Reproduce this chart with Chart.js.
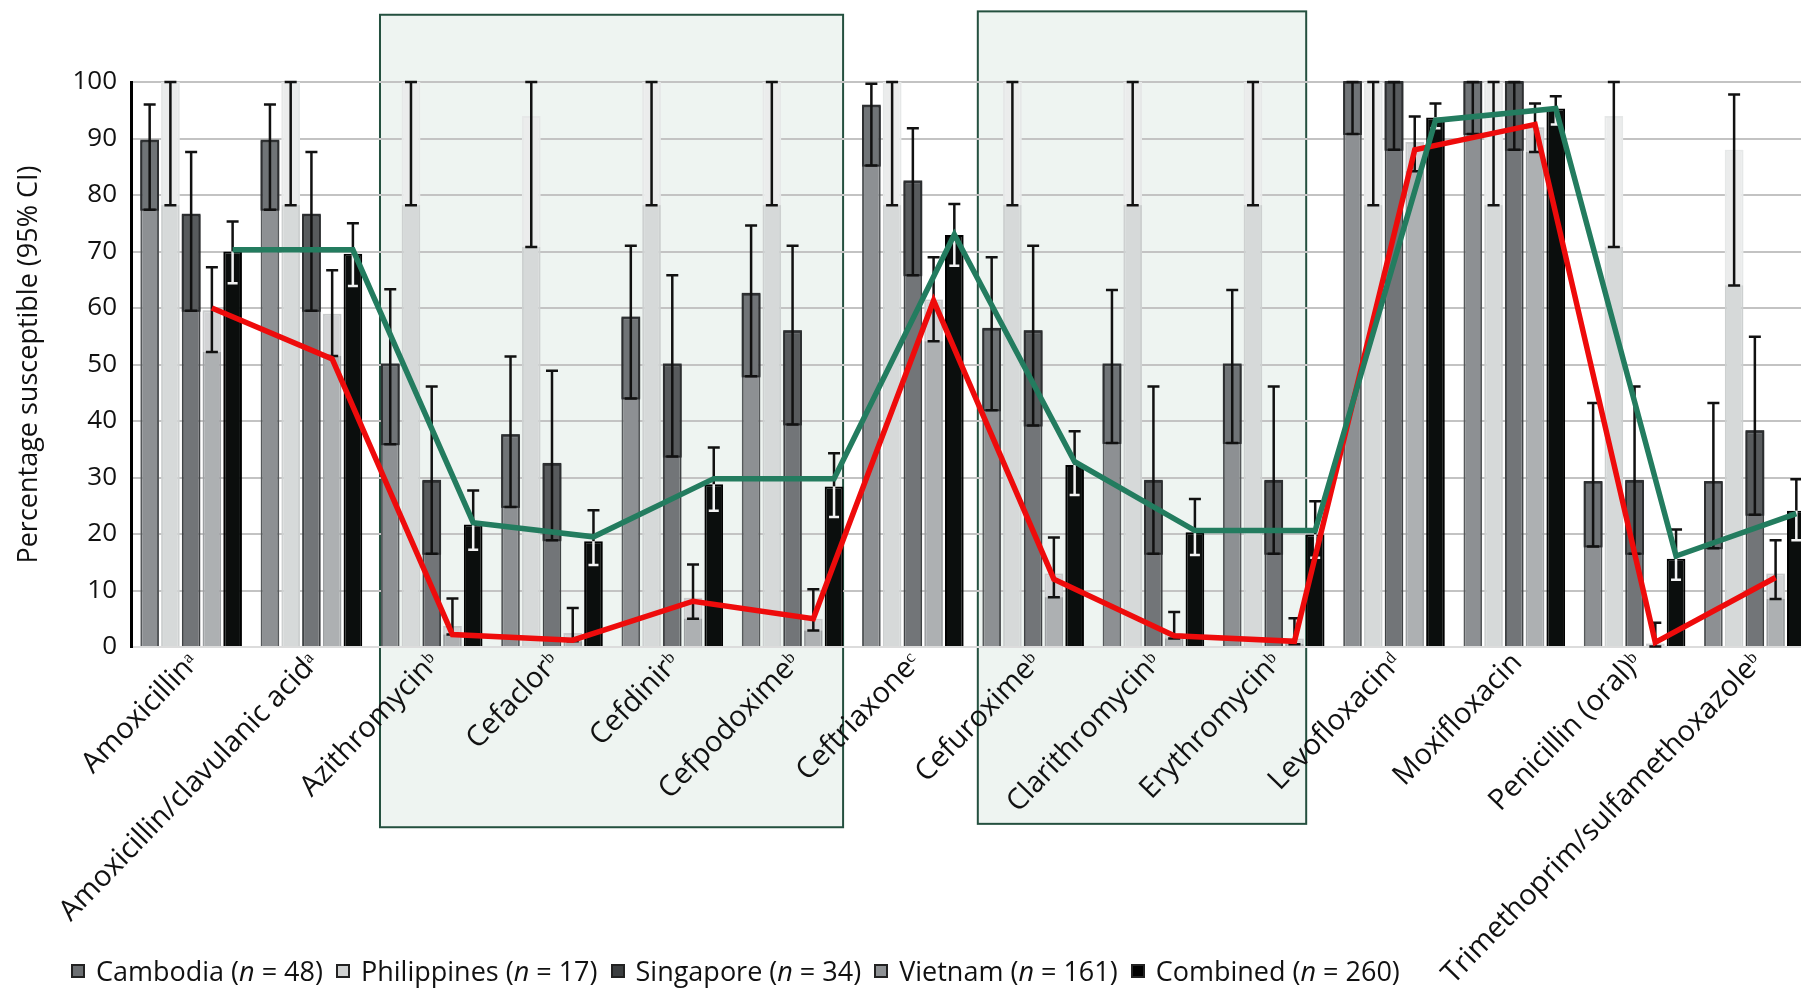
<!DOCTYPE html>
<html>
<head>
<meta charset="utf-8">
<script src="https://cdn.jsdelivr.net/npm/chart.js@4/dist/chart.umd.min.js"></script>
<style>
  html, body { margin: 0; padding: 0; background: #fff; overflow: hidden; }
  #wrap { position: relative; width: 1830px; height: 988px; }
  #legend {
    position: absolute; left: 71px; top: 952px;
    display: flex; align-items: center;
    font-family: "Open Sans", sans-serif; font-size: 27px; color: #111;
  }
  #legend .item { display: flex; align-items: center; margin-right: 13px; }
  #legend .sw { width: 14px; height: 14px; margin-right: 11px; box-sizing: border-box; border: 2px solid #222; }
</style>
</head>
<body>
<div id="wrap">
  <canvas id="chart" width="1830" height="988"></canvas>
  <div id="legend"></div>
</div>
<script>
const categories = [
  "Amoxicillinᵃ", "Amoxicillin/clavulanic acidᵃ", "Azithromycinᵇ", "Cefaclorᵇ",
  "Cefdinirᵇ", "Cefpodoximeᵇ", "Ceftriaxoneᶜ", "Cefuroximeᵇ", "Clarithromycinᵇ",
  "Erythromycinᵇ", "Levofloxacinᵈ", "Moxifloxacin", "Penicillin (oral)ᵇ",
  "Trimethoprim/sulfamethoxazoleᵇ"
];

// percentage susceptible and 95% CI per country
const cambodia   = [89.6, 89.6, 50, 37.5, 58.3, 62.5, 95.8, 56.3, 50, 50, 100, 100, 29.2, 29.2];
const cambodiaLo = [77.4, 77.4, 35.9, 24.8, 44, 47.9, 85.2, 41.9, 36.1, 36.1, 90.8, 90.8, 17.8, 17.5];
const cambodiaHi = [96, 96, 63.3, 51.4, 71, 74.6, 99.7, 69, 63.2, 63.2, 100, 100, 43.2, 43.2];

const philippines   = [100, 100, 100, 94, 100, 100, 100, 100, 100, 100, 100, 100, 94, 88];
const philippinesLo = [78.2, 78.2, 78.2, 70.8, 78.2, 78.2, 78.2, 78.2, 78.2, 78.2, 78.2, 78.2, 70.8, 64];
const philippinesHi = [100, 100, 100, 100, 100, 100, 100, 100, 100, 100, 100, 100, 100, 97.8];

const singapore   = [76.5, 76.5, 29.4, 32.4, 50, 55.9, 82.4, 55.9, 29.4, 29.4, 100, 100, 29.4, 38.2];
const singaporeLo = [59.5, 59.5, 16.5, 18.9, 33.7, 39.4, 65.8, 39.2, 16.5, 16.5, 88, 88, 16.5, 23.4];
const singaporeHi = [87.6, 87.6, 46.1, 48.9, 65.8, 71, 91.8, 71, 46.1, 46.1, 100, 100, 46.1, 54.9];

const vietnam   = [59.6, 59, 3.7, 2.5, 8.7, 5, 61.5, 13, 2.5, 1.5, 89.4, 92, 0.6, 13];
const vietnamLo = [52.2, 51.5, 2.2, 1, 5, 2.9, 54.1, 8.8, 1.5, 0.5, 84.2, 87.6, 0.1, 8.5];
const vietnamHi = [67.2, 66.7, 8.6, 6.9, 14.6, 10.2, 69, 19.4, 6.2, 5.1, 93.9, 96.2, 4.3, 18.9];

const combined   = [70, 69.6, 21.7, 18.7, 28.8, 28.4, 72.9, 32.2, 20.3, 19.9, 93.7, 95.3, 15.6, 24.1];
const combinedLo = [64.4, 63.9, 17.2, 14.5, 24.1, 23, 67.5, 26.9, 16.3, 15.8, 91.8, 92.5, 11.9, 18.9];
const combinedHi = [75.3, 75, 27.7, 24.2, 35.3, 34.3, 78.4, 38.2, 26.2, 25.8, 96.2, 97.5, 20.8, 29.7];

// overlaid lines
const greenLine = [70.3, 70.3, 22, 19.5, 29.8, 29.8, 73, 32.8, 20.6, 20.6, 93.2, 95.3, 16.1, 23.6];
const redLine   = [60, 51, 2.2, 1.2, 8.1, 5, 61.3, 12, 2, 1, 88, 92.5, 0.8, 12.3];

// highlight boxes: [from category, to category, from value, to value]
const boxes = [
  [1.57, 5.42, -31.9, 111.9],
  [6.54, 9.27, -31.3, 112.5]
];

const yTicks = [0, 10, 20, 30, 40, 50, 60, 70, 80, 90, 100];

const catPct = 0.862;
const slot = catPct / 5;

const series = [
  { label: "Cambodia", n: 48, data: cambodia, lo: cambodiaLo, hi: cambodiaHi, bg: "#8d9093", border: "#55585a", band: "rgba(40,42,45,0.28)", kind: "mid", sw: "#6c6f72" },
  { label: "Philippines", n: 17, data: philippines, lo: philippinesLo, hi: philippinesHi, bg: "#d6d9d9", border: "#cdd0d0", band: "rgba(255,255,255,0.5)", kind: "light", sw: "#d0d2d2" },
  { label: "Singapore", n: 34, data: singapore, lo: singaporeLo, hi: singaporeHi, bg: "#727578", border: "#3f4244", band: "rgba(30,32,34,0.3)", kind: "mid", sw: "#3c3f41" },
  { label: "Vietnam", n: 161, data: vietnam, lo: vietnamLo, hi: vietnamHi, bg: "#adb0b2", border: "#9c9fa1", band: "rgba(255,255,255,0.45)", kind: "light", sw: "#8e9194" },
  { label: "Combined", n: 260, data: combined, lo: combinedLo, hi: combinedHi, bg: "#0b0e0d", border: "#000000", band: null, kind: "dark", sw: "#000000" }
];

const datasets = series.map((s) => ({
  type: "bar",
  label: s.label,
  data: s.data.map((v, i) => ({ x: i, y: v })),
  backgroundColor: s.bg,
  borderColor: s.border,
  borderWidth: 2,
  borderSkipped: "bottom",
  order: 2
}));

datasets.push({
  type: "line", label: "green",
  data: greenLine.map((v, i) => ({ x: i + 2 * slot, y: v })),
  borderColor: "#237c5f", borderWidth: 5.5, pointRadius: 0, tension: 0,
  borderJoinStyle: "miter", order: 0
});
datasets.push({
  type: "line", label: "red",
  data: redLine.map((v, i) => ({ x: i + slot, y: v })),
  borderColor: "#ee0b0b", borderWidth: 5.5, pointRadius: 0, tension: 0,
  borderJoinStyle: "miter", order: 0
});

const boxPlugin = {
  id: "boxes",
  beforeDraw(chart) {
    const ctx = chart.ctx, xs = chart.scales.x, ys = chart.scales.y;
    ctx.save();
    boxes.forEach(([c0, c1, v0, v1]) => {
      const x0 = xs.getPixelForValue(c0), x1 = xs.getPixelForValue(c1);
      const y0 = ys.getPixelForValue(v1), y1 = ys.getPixelForValue(v0);
      ctx.fillStyle = "#eef4f1";
      ctx.fillRect(x0, y0, x1 - x0, y1 - y0);
      ctx.strokeStyle = "#24503f";
      ctx.lineWidth = 2;
      ctx.strokeRect(x0, y0, x1 - x0, y1 - y0);
    });
    ctx.restore();
  }
};

const errorPlugin = {
  id: "errorbars",
  afterDatasetDraw(chart, args) {
    const s = series[args.index];
    if (!s) return;
    const ctx = chart.ctx, ys = chart.scales.y;
    ctx.save();
    args.meta.data.forEach((bar, i) => {
      const x = bar.x, w = bar.width;
      const yv = bar.y;
      const ylo = ys.getPixelForValue(s.lo[i]);
      const yhi = ys.getPixelForValue(s.hi[i]);
      const cap = 6;
      if (s.band && ylo > yv) {
        ctx.fillStyle = s.band;
        ctx.fillRect(x - w / 2, yv, w, ylo - yv);
        if (s.kind === "mid") {
          ctx.strokeStyle = "#2c2e30";
          ctx.lineWidth = 2;
          ctx.strokeRect(x - w / 2 + 1, yv, w - 2, ylo - yv);
        }
      }
      ctx.lineWidth = 2.5;
      ctx.strokeStyle = "#111";
      ctx.beginPath();
      ctx.moveTo(x, yhi);
      ctx.lineTo(x, s.kind === "dark" ? yv : ylo);
      ctx.moveTo(x - cap, yhi);
      ctx.lineTo(x + cap, yhi);
      if (s.kind !== "dark") {
        ctx.moveTo(x - cap, ylo);
        ctx.lineTo(x + cap, ylo);
      }
      ctx.stroke();
      if (s.kind === "dark") {
        ctx.strokeStyle = "#f2f2f2";
        ctx.beginPath();
        ctx.moveTo(x, yv);
        ctx.lineTo(x, ylo);
        ctx.moveTo(x - cap + 1, ylo);
        ctx.lineTo(x + cap - 1, ylo);
        ctx.stroke();
      }
    });
    ctx.restore();
  }
};

const chart = new Chart(document.getElementById("chart").getContext("2d"), {
  type: "bar",
  data: { datasets },
  options: {
    responsive: false,
    animation: false,
    layout: { padding: { top: 82, right: 15, left: 0, bottom: 0 } },
    datasets: { bar: { categoryPercentage: catPct, barPercentage: 0.9 } },
    plugins: { legend: { display: false }, tooltip: { enabled: false } },
    scales: {
      x: {
        type: "linear", offset: false, min: -0.5, max: 13.5,
        afterBuildTicks(scale) { scale.ticks = categories.map((c, i) => ({ value: i })); },
        grid: { display: false },
        border: { display: false },
        ticks: {
          autoSkip: false, minRotation: 46, maxRotation: 46, padding: -9, labelOffset: 3,
          color: "#111", font: { family: "Open Sans", size: 29 },
          callback: (v) => categories[v]
        },
        afterFit(scale) { scale.height = 341; }
      },
      y: {
        min: 0, max: 100,
        afterBuildTicks(scale) { scale.ticks = yTicks.map((v) => ({ value: v })); },
        grid: {
          drawTicks: false, lineWidth: 2,
          color: (c) => (c.tick && c.tick.value === 0 ? "#dcdcdc" : "#c3c3c3")
        },
        border: { display: true, color: "#000", width: 3 },
        ticks: { padding: 14, color: "#111", font: { family: "Open Sans", size: 26 } },
        title: {
          display: true, text: "Percentage susceptible (95% CI)", color: "#111",
          font: { family: "Open Sans", size: 27 }, padding: { top: 13, bottom: 0 }
        },
        afterFit(scale) { scale.width = 131; }
      }
    }
  },
  plugins: [boxPlugin, errorPlugin]
});

const legend = document.getElementById("legend");
series.forEach((s) => {
  const item = document.createElement("div");
  item.className = "item";
  const sw = document.createElement("span");
  sw.className = "sw";
  sw.style.background = s.sw;
  const txt = document.createElement("span");
  txt.innerHTML = `${s.label} (<i>n</i> = ${s.n})`;
  item.appendChild(sw);
  item.appendChild(txt);
  legend.appendChild(item);
});
</script>
</body>
</html>
